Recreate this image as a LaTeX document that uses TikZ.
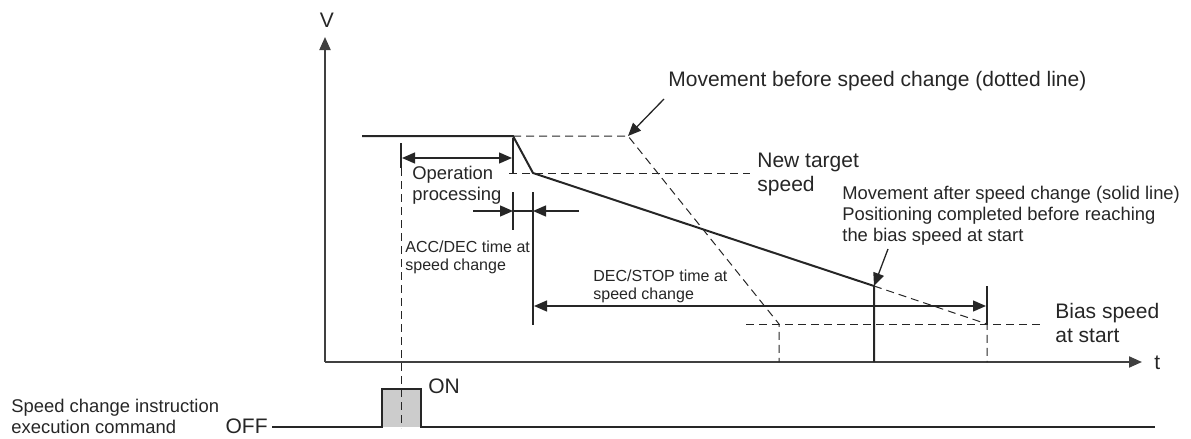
\documentclass[tikz,border=0pt]{standalone}
\usepackage{fontspec}
\setmainfont{Liberation Sans}
\usetikzlibrary{arrows.meta}

\begin{document}
\begin{tikzpicture}[x=0.5pt, y=-0.5pt,
    >={Triangle[length=6.5pt, width=5.5pt]},
    axis/.style={line width=1pt, draw=black!75},
    prof/.style={line width=1pt, draw=black!85},
    dashline/.style={line width=0.5pt, draw=black!85, dash pattern=on 4pt off 2.5pt},
    thinline/.style={line width=0.65pt, draw=black!85},
    lab/.style={font=\fontsize{10.5}{12}\selectfont, text=black!85, inner sep=0pt, align=left},
    mid/.style={font=\fontsize{9.2}{10.5}\selectfont, text=black!85, inner sep=0pt, align=left},
    small/.style={font=\fontsize{8}{9}\selectfont, text=black!85, inner sep=0pt, align=left}]
    \useasboundingbox (0,0) rectangle (1191,439);

    % Axes
    \coordinate (o) at (325,362);
    \coordinate (vtop) at (325,37);
    \coordinate (tend) at (1142,362);
    \draw[axis, ->] (o) -- (vtop);
    \draw[axis, ->] (o) -- (tend);
    \node[lab] (vlab) at (327,20) {V};
    \node[lab, anchor=west] (tlab) at (1154,363) {t};

    % Speed profile points
    \coordinate (start) at (362,136);
    \coordinate (chg) at (513,136);
    \coordinate (newv) at (533,173);
    \coordinate (brk) at (874,286);
    \coordinate (peak) at (628,136);
    \coordinate (oldend) at (779,324);
    \coordinate (biasend) at (987,324);

    % Movement after speed change (solid)
    \draw[prof] (start) -- (chg) -- (newv) -- (brk) -- (brk |- o);

    % Movement before speed change (dashed)
    \draw[dashline] (chg) -- (peak) -- (oldend) -- (oldend |- o);
    \draw[dashline] (brk) -- (biasend) -- (biasend |- o);

    % Speed levels
    \draw[dashline] (509,173) -- (750,173);
    \draw[dashline] (746,324) -- (1040,324);
    \draw[thinline] (987,286) -- (biasend);

    % Operation processing
    \draw[thinline] (401,143) -- (401,168);
    \draw[thinline] (513,138) -- (513,173);
    \draw[thinline, <->] (402,158) -- (512,158);
    \node[mid, anchor=north west] (opproc) at (412,166) {Operation\\processing};

    % ACC/DEC time at speed change
    \draw[thinline] (513,192) -- (513,230);
    \draw[thinline] (533,192) -- (533,325);
    \draw[thinline, ->] (473,211) -- (513,211);
    \draw[thinline, ->] (579,211) -- (533,211);
    \draw[thinline] (513,211) -- (533,211);
    \node[small, anchor=north west] (accdec) at (405,241) {ACC/DEC time at\\speed change};

    % DEC/STOP time at speed change
    \draw[thinline, <->] (534,306) -- (986,306);
    \node[small, anchor=north west] (decstop) at (593,270) {DEC/STOP time at\\speed change};

    % Labels with pointers
    \node[lab, anchor=north west] (before) at (668,71) {Movement before speed change (dotted line)};
    \coordinate (beforetail) at (664,99);
    \draw[thinline, ->] (beforetail) -- (peak);

    \node[lab, anchor=north west] (target) at (757,153) {New target\\speed};

    \node[mid, anchor=north west] (after) at (842,186)
        {Movement after speed change (solid line)\\Positioning completed before reaching\\the bias speed at start};
    \coordinate (aftertail) at (888,249);
    \draw[thinline, ->] (aftertail) -- (brk);

    \node[lab, anchor=north west] (bias) at (1055,303) {Bias speed\\at start};

    % Speed change instruction execution command
    \fill[black!20] (382,389) rectangle (421,427);
    \draw[prof] (272,427) -- (382,427) -- (382,389) -- (421,389) -- (421,427) -- (1155,427);
    \draw[dashline] (401,168) -- (401,428);
    \node[lab, anchor=west] (on) at (428,386) {ON};
    \node[lab, anchor=east] (off) at (268,426) {OFF};
    \node[mid, anchor=north west] (cmd) at (11,399) {Speed change instruction\\execution command};
\end{tikzpicture}
\end{document}
